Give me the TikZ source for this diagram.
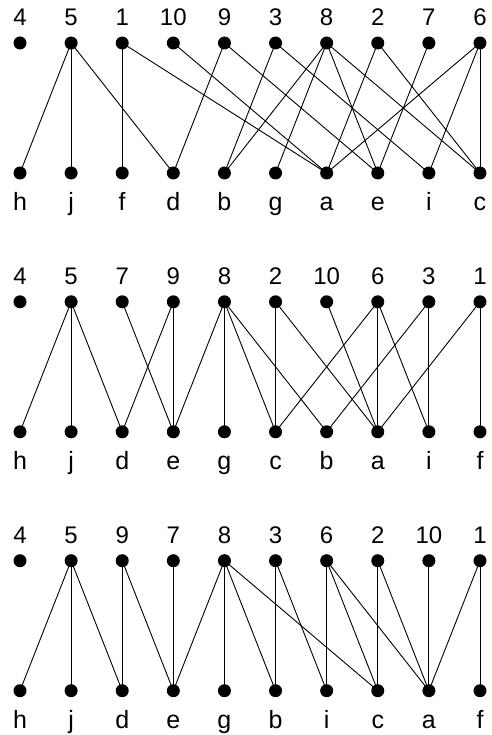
\documentclass[tikz,border=0pt]{standalone}
\usepackage{fontspec}
\setmainfont{Liberation Sans}
\begin{document}
\begin{tikzpicture}[x=1pt,y=-1pt,
  vtx/.style={circle,fill=black,inner sep=0pt,minimum size=13pt},
  toplab/.style={anchor=base,inner sep=0pt,font=\fontsize{24}{24}\selectfont},
  botlab/.style={anchor=base,inner sep=0pt,font=\fontsize{25}{25}\selectfont},
  edge/.style={line width=0.9pt,black}]
\useasboundingbox (0,0) rectangle (491,735);
\foreach \g/\y/\tops/\bots in {
  1/43/{4,5,1,10,9,3,8,2,7,6}/{h,j,f,d,b,g,a,e,i,c},
  2/301.8/{4,5,7,9,8,2,10,6,3,1}/{h,j,d,e,g,c,b,a,i,f},
  3/560.7/{4,5,9,7,8,3,6,2,10,1}/{h,j,d,e,g,b,i,c,a,f}}{
  \foreach \l [count=\i from 0] in \tops {
    \node[vtx] (t\g-\l) at ({20+51.11*\i},\y) {};
    \node[toplab] (tl\g-\l) at ({20+51.11*\i},\y-17) {\l};
  }
  \foreach \l [count=\i from 0] in \bots {
    \node[vtx] (b\g-\l) at ({20+51.11*\i},\y+130) {};
    \node[botlab] (bl\g-\l) at ({20+51.11*\i},\y+168) {\l};
  }
}
\foreach \g/\edges in {
  1/{5/h,5/j,5/d,1/f,1/a,10/a,9/d,9/e,3/b,3/i,8/b,8/g,8/e,8/c,2/a,2/c,7/e,6/a,6/i,6/c},
  2/{5/h,5/j,5/d,7/e,9/d,9/e,8/e,8/g,8/c,8/b,2/c,2/a,10/a,6/c,6/a,6/i,3/b,3/i,1/a,1/f},
  3/{5/h,5/j,5/d,9/d,9/e,7/e,8/e,8/g,8/b,8/c,3/b,3/i,6/i,6/c,6/a,2/c,2/a,10/a,1/a,1/f}}{
  \foreach \a/\b in \edges {
    \draw[edge] (t\g-\a.center) -- (b\g-\b.center);
  }
}
\end{tikzpicture}
\end{document}
